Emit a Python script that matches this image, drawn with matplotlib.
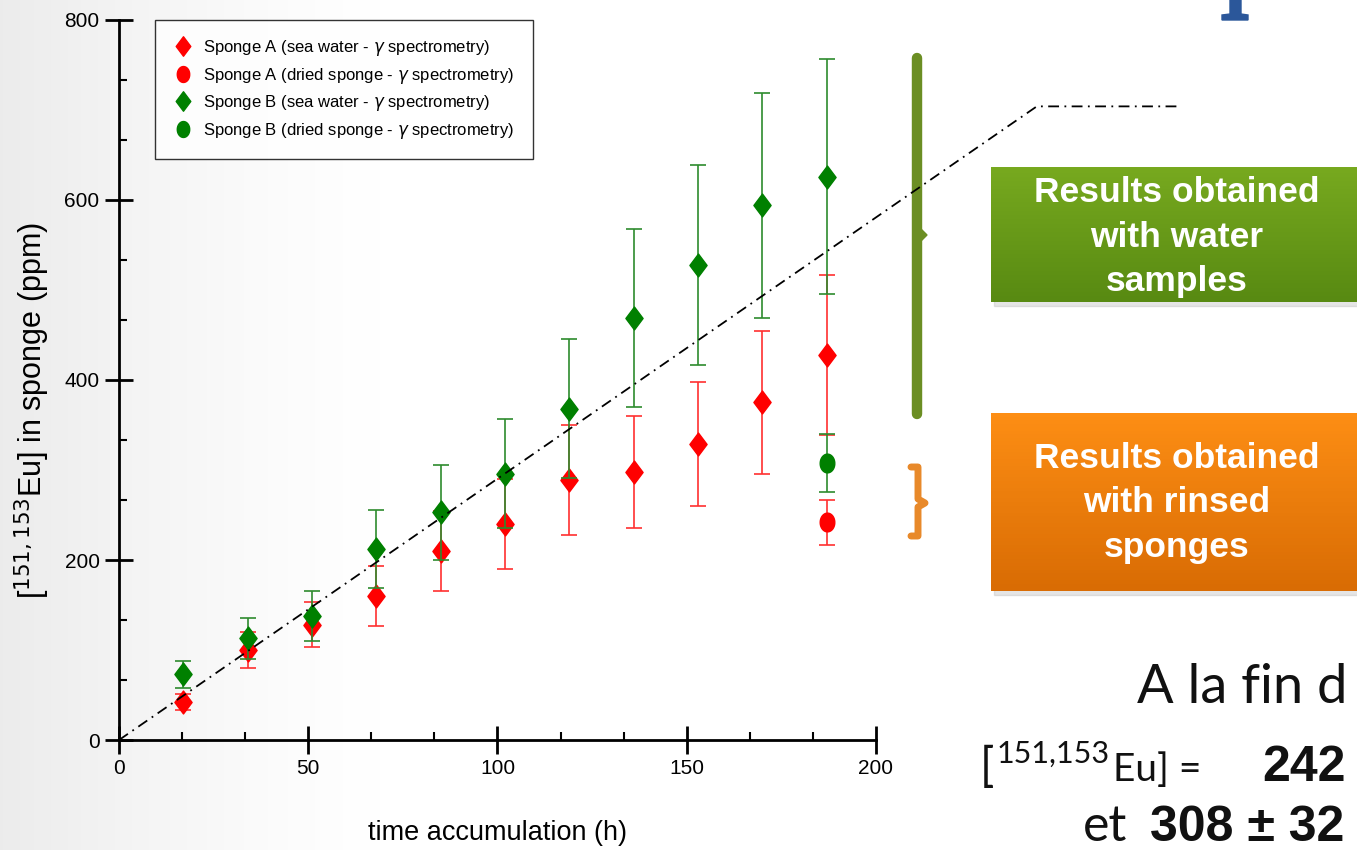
import numpy as np
import matplotlib.pyplot as plt
from matplotlib.path import Path
from matplotlib.patches import Rectangle, Polygon
from matplotlib.ticker import MultipleLocator

# Data
time_h = [17, 34, 51, 68, 85, 102, 119, 136, 153, 170, 187]
spongeA_sea = [42, 100, 128, 160, 210, 240, 289, 298, 329, 375, 428]
spongeA_sea_err = [9, 20, 25, 33, 44, 50, 61, 62, 69, 79, 89]
spongeB_sea = [73, 113, 138, 212, 253, 296, 368, 469, 528, 594, 626]
spongeB_sea_err = [15, 23, 28, 43, 53, 61, 77, 99, 111, 125, 131]

dried_time = [187]
spongeA_dried = [242]
spongeA_dried_err = [25]
spongeB_dried = [308]
spongeB_dried_err = [32]

# dash-dot guide line (goes out of the axes to the right)
guide_x = [0, 242.5, 280]
guide_y = [0, 704, 704]

plt.rcParams['font.family'] = ['Liberation Sans', 'DejaVu Sans']

# tall diamond and oval markers like in the original
diamond = Path([(0, 1), (0.75, 0), (0, -1), (-0.75, 0), (0, 1)],
               [Path.MOVETO, Path.LINETO, Path.LINETO, Path.LINETO, Path.CLOSEPOLY])
t = np.linspace(0, 2 * np.pi, 60)
oval = Path(np.column_stack([0.78 * np.cos(t), np.sin(t)]))

fig = plt.figure(figsize=(13.57, 8.5), dpi=100)

# background / slide decorations in pixel coordinates
bg = fig.add_axes([0, 0, 1, 1], zorder=0)
bg.set_xlim(0, 1357)
bg.set_ylim(850, 0)
bg.axis('off')

xx = np.linspace(0, 1, 400)
shade = np.clip(1 - xx * 1357 / 380, 0, 1) ** 1.3 * 0.075
img = np.ones((2, 400, 3)) - shade[None, :, None]
bg.imshow(img, extent=[0, 1357, 850, 0], aspect='auto', zorder=0)

# green bracket
bg.plot([917, 917], [58, 414], color='#6b8e23', lw=7.5, solid_capstyle='round', zorder=2)
bg.add_patch(Polygon([(920, 228), (927, 235), (920, 242)], closed=True, color='#6b8e23', zorder=2))
# orange bracket
bg.plot([911, 918, 918, 925, 918, 918, 911], [467, 467, 499, 503, 507, 536, 536],
        color='#e8892a', lw=5, solid_joinstyle='round', solid_capstyle='round', zorder=2)


def box(x0, y0, x1, y1, top, bottom, lines, ys):
    bg.add_patch(Rectangle((x0 + 3, y0 + 4), x1 - x0, y1 - y0, color='0.6', alpha=0.25, zorder=2))
    c0 = np.array(plt.matplotlib.colors.to_rgb(top))
    c1 = np.array(plt.matplotlib.colors.to_rgb(bottom))
    f = np.linspace(0, 1, 50)[:, None]
    grad = (c0 * (1 - f) + c1 * f)[:, None, :]
    bg.imshow(grad, extent=[x0, x1, y1, y0], aspect='auto', zorder=3)
    for s, y in zip(lines, ys):
        bg.text(1177, y, s, ha='center', va='center', color='white',
                fontsize=25.5, fontweight='bold', family='Liberation Sans', zorder=4)


box(991, 167, 1370, 302, '#77a91f', '#588a12',
    ['Results obtained', 'with water', 'samples'], [192, 237, 281])
box(991, 413, 1370, 591, '#fd8e14', '#d96c04',
    ['Results obtained', 'with rinsed', 'sponges'], [458, 503, 548])

# slide text on the right
ink = '#111111'
bg.text(1137, 703, 'A la fin d', fontsize=39, family='Lato', va='baseline', ha='left', color=ink)
bg.text(980, 781, '[', fontsize=34, family='Lato', va='baseline', ha='left', color=ink)
bg.text(997, 763, '151,153', fontsize=22, family='Lato', va='baseline', ha='left', color=ink)
bg.text(1113, 781, 'Eu] =', fontsize=28, family='Lato', va='baseline', ha='left', color=ink)
bg.text(1262, 781, '242', fontsize=36, family='Liberation Sans', fontweight='bold',
        va='baseline', ha='left', color=ink)
bg.text(1083, 841, 'et', fontsize=36, family='Lato', va='baseline', ha='left', color=ink)
bg.text(1150, 841, '308 \u00b1 32', fontsize=36, family='Liberation Sans', fontweight='bold',
        va='baseline', ha='left', color=ink)
# bottom of a title letter cut by the top edge
bg.add_patch(Polygon([(1230, 0), (1241, 0), (1241, 14), (1248, 15), (1248, 20),
                      (1222, 20), (1222, 15), (1230, 14)], closed=True, color='#2b579a', zorder=2))

# main chart
ax = fig.add_axes([0.0877, 0.1294, 0.5578, 0.8471], zorder=2)
ax.patch.set_alpha(0)

ax.errorbar(time_h, spongeA_sea, yerr=spongeA_sea_err, fmt='none', ecolor='#ff3030',
            elinewidth=1.2, capsize=6, capthick=1.2, zorder=2)
ax.errorbar(dried_time, spongeA_dried, yerr=spongeA_dried_err, fmt='none', ecolor='#ff3030',
            elinewidth=1.2, capsize=6, capthick=1.2, zorder=2)
hA1, = ax.plot(time_h, spongeA_sea, linestyle='none', marker=diamond, markersize=16.5,
               color='#ff0000', label='Sponge A (sea water - $\\gamma$ spectrometry)', zorder=3)
hA2, = ax.plot(dried_time, spongeA_dried, linestyle='none', marker=oval, markersize=13.5,
               color='#ff0000', label='Sponge A (dried sponge - $\\gamma$ spectrometry)', zorder=3)
ax.errorbar(time_h, spongeB_sea, yerr=spongeB_sea_err, fmt='none', ecolor='#2e8b2e',
            elinewidth=1.2, capsize=6, capthick=1.2, zorder=4)
ax.errorbar(dried_time, spongeB_dried, yerr=spongeB_dried_err, fmt='none', ecolor='#2e8b2e',
            elinewidth=1.2, capsize=6, capthick=1.2, zorder=4)
hB1, = ax.plot(time_h, spongeB_sea, linestyle='none', marker=diamond, markersize=16.5,
               color='#008000', label='Sponge B (sea water - $\\gamma$ spectrometry)', zorder=5)
hB2, = ax.plot(dried_time, spongeB_dried, linestyle='none', marker=oval, markersize=13.5,
               color='#008000', label='Sponge B (dried sponge - $\\gamma$ spectrometry)', zorder=5)

ax.plot(guide_x, guide_y, color='black', lw=1.3, linestyle=(0, (6, 3, 1, 3)),
        clip_on=False, zorder=6)

ax.set_xlim(0, 200)
ax.set_ylim(0, 800)
ax.spines['top'].set_visible(False)
ax.spines['right'].set_visible(False)
for s in ['left', 'bottom']:
    ax.spines[s].set_linewidth(2)
ax.xaxis.set_major_locator(MultipleLocator(50))
ax.xaxis.set_minor_locator(MultipleLocator(50 / 3))
ax.yaxis.set_major_locator(MultipleLocator(200))
ax.yaxis.set_minor_locator(MultipleLocator(200 / 3))
ax.tick_params(which='major', direction='inout', length=20, width=2, labelsize=15, pad=4)
ax.tick_params(which='minor', direction='in', length=6, width=1.5)

ax.set_xlabel('time accumulation (h)', fontsize=19.5, labelpad=30)
ax.set_ylabel('[$^{151,153}$Eu] in sponge (ppm)', fontsize=22)
ax.yaxis.set_label_coords(-0.088, 0.458)

leg = ax.legend(handles=[hA1, hA2, hB1, hB2], loc='upper left', bbox_to_anchor=(0.0476, 1.0),
                borderaxespad=0, fontsize=12, frameon=True, fancybox=False, edgecolor='black',
                markerscale=0.85, handletextpad=0.6, borderpad=1.1, labelspacing=0.45,
                handlelength=1.2)
leg.get_frame().set_linewidth(1)

fig.savefig('out.png', dpi=100)
